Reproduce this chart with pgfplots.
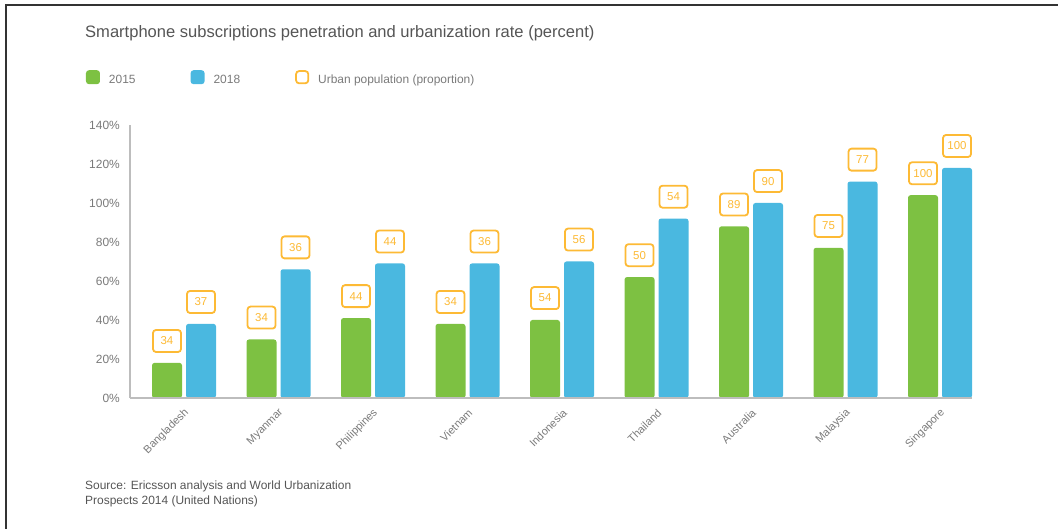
\documentclass[border=0pt]{standalone}
\usepackage{pgfplots}
\usepackage{pgfplotstable}
\pgfplotsset{compat=1.18}
\usepackage{fontspec}
\setmainfont{Liberation Sans}
\definecolor{cgreen}{HTML}{7DC142}
\definecolor{cblue}{HTML}{4AB8E0}
\definecolor{corange}{HTML}{FDBA35}
\definecolor{ctitle}{HTML}{555555}
\definecolor{ctick}{HTML}{7A7A7A}
\definecolor{caxis}{HTML}{BDBDBD}

\pgfplotstableread{
x g b ug ub
0 18 38 34 37
1 30 66 34 36
2 41 69 44 44
3 38 69 34 36
4 40 70 54 56
5 62 92 50 54
6 88 100 89 90
7 77 111 75 77
8 104 118 100 100
}\datatable

\begin{document}
\begin{tikzpicture}[x=1bp,y=1bp]
\path[use as bounding box] (0,0) rectangle (1058,529);
\draw[line width=1.5bp, color=black!80] (6,0) -- (6,524) -- (1058,524);
\node[anchor=base west, inner sep=0pt, text=ctitle, font=\fontsize{16.6}{19}\selectfont] at (85,491) {Smartphone subscriptions penetration and urbanization rate (percent)};
\node[anchor=base west, inner sep=0pt, text=ctitle, font=\fontsize{12}{14}\selectfont] at (85,39) {Source: Ericsson analysis and World Urbanization};
\node[anchor=base west, inner sep=0pt, text=ctitle, font=\fontsize{12}{14}\selectfont] at (85,24) {Prospects 2014 (United Nations)};
\begin{axis}[
  at={(130bp,131bp)}, anchor=south west,
  scale only axis, width=842bp, height=273bp,
  xmin=-0.5714, xmax=8.3386, ymin=0, ymax=140,
  axis lines=left,
  axis line style={draw=caxis, line width=2bp, -},
  axis on top,
  clip=false,
  major tick length=0pt,
  ytick={0,20,40,60,80,100,120,140},
  yticklabel={\pgfmathprintnumber{\tick}\%},
  /pgf/number format/assume math mode=true,
  yticklabel style={inner sep=0pt, xshift=-10bp, text=ctick, font=\fontsize{12}{14}\selectfont},
  xtick={0,...,8},
  xticklabels={Bangladesh,Myanmar,Philippines,Vietnam,Indonesia,Thailand,Australia,Malaysia,Singapore},
  xticklabel style={xshift=3bp, yshift=-13bp, rotate=45, anchor=east, inner sep=0pt, text=ctick, font=\fontsize{11}{13}\selectfont},
  ybar=4bp, bar width=30bp,
  point meta=explicit symbolic,
  nodes near coords={\pgfplotspointmeta},
  nodes near coords style={draw=corange, line width=1.8bp, rounded corners=3bp, fill=white, text=corange,
     font=\fontsize{11.5}{13}\selectfont, minimum width=28bp, minimum height=22bp, inner sep=0pt,
     anchor=south, yshift=10bp},
  legend columns=3,
  legend style={at={(axis description cs:-0.0525,1.174)}, anchor=west, draw=none, fill=none,
     inner sep=0pt, text=ctick, font=\fontsize{12}{14}\selectfont,
     nodes={inner sep=0pt},
     /tikz/every odd column/.append style={column sep=9bp},
     /tikz/every even column/.append style={column sep=55bp}},
]
\addplot[fill=cgreen, draw=none, rounded corners=2.5bp,
  legend image code/.code={\fill[cgreen, rounded corners=3bp] (0bp,-4.5bp) rectangle (14bp,9.5bp);}]
  table[x=x, y=g, meta=ug] {\datatable};
\addlegendentry{2015}
\addplot[fill=cblue, draw=none, rounded corners=2.5bp,
  legend image code/.code={\fill[cblue, rounded corners=3bp] (0bp,-4.5bp) rectangle (14bp,9.5bp);}]
  table[x=x, y=b, meta=ub] {\datatable};
\addlegendentry{2018}
\addlegendimage{legend image code/.code={\draw[corange, line width=1.8bp, rounded corners=3bp] (0.9bp,-3.6bp) rectangle (13.1bp,8.6bp);}}
\addlegendentry{Urban population (proportion)}
\end{axis}
\end{tikzpicture}
\end{document}
